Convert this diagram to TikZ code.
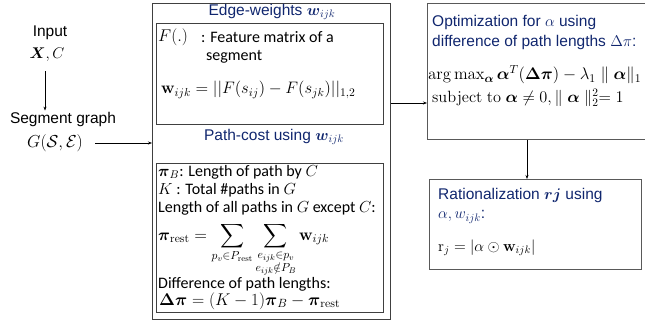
\documentclass[tikz,border=0pt]{standalone}
\usepackage{fix-cm}
\usepackage{amsmath,amssymb}
\usepackage[no-math]{fontspec}
\setmainfont{Liberation Sans}
\newfontfamily\carlito{Carlito}
\usepackage{xcolor}
\usepackage{tikz}
\usetikzlibrary{arrows.meta,positioning,calc}
\definecolor{navy}{RGB}{16,38,110}

\begin{document}
\begin{tikzpicture}[
  x=1pt,y=-1pt,
  every node/.style={inner sep=1pt},
  lbl/.style={font=\fontsize{15.5}{21}\selectfont,align=center},
  ttl/.style={font=\fontsize{15.5}{20}\selectfont,text=navy},
  body/.style={font=\carlito\fontsize{16}{19}\selectfont,anchor=west},
  box/.style={draw=black!75,line width=0.9pt,anchor=north west,inner sep=0pt},
  arc/.style={-{Stealth[length=4pt,width=3pt]},line width=0.7pt}
]
\useasboundingbox (0,0) rectangle (645,322);
\clip (0,0) rectangle (645,322);
% left column
\node[lbl] (input) at (50,33) {Input};
\node[lbl] (inputx) at (47,55) {$\boldsymbol{X}, C$};
\node[lbl] (seg) at (63,119) {Segment graph};
\node[lbl,font=\fontsize{17.3}{21}\selectfont] (segg) at (55,143) {$G(\mathcal{S},\mathcal{E})$};

% middle block
\node[box,line width=1.1pt,minimum width=238pt,minimum height=316pt] (outer) at (152,3) {};
\node[box,minimum width=227pt,minimum height=101pt] (inA) at (156,23) {};
\node[box,minimum width=227pt,minimum height=149pt] (inB) at (156,163) {};
\node[ttl] (tA) at (272,12) {Edge-weights $\boldsymbol{w}_{ijk}$};
\node[ttl] (tB) at (274,137) {Path-cost using $\boldsymbol{w}_{ijk}$};

\node[body,font=\fontsize{17}{19}\selectfont] (fdot) at (157,37) {$F(.)$};
\node[body] (feat) at (200,37) {: Feature matrix of a};
\node[body] (segm) at (205,57) {segment};
\node[anchor=west,font=\fontsize{16.6}{20}\selectfont] (wijk) at (160,90)
  {$\mathbf{w}_{ijk} = ||F(s_{ij}) - F(s_{jk})||_{1,2}$};

\node[body] (piB) at (157,172) {$\boldsymbol{\pi}_B$: Length of path by $C$};
\node[body] (kk) at (157,190) {$K$ : Total \#paths in $G$};
\node[body] (alllen) at (157,208) {Length of all paths in $G$ except $C$:};
\node[anchor=base west,font=\fontsize{16.7}{18}\selectfont] (pirest) at (157,240)
  {$\boldsymbol{\pi}_{\mathrm{rest}} = \displaystyle\sum_{p_v\in P_{\mathrm{rest}}}
   \sum_{\substack{e_{ijk}\in p_v\\ e_{ijk}\notin P_B}} \mathbf{w}_{ijk}$};
\node[body] (diff) at (157,284) {Difference of path lengths:};
\node[anchor=west,font=\fontsize{17}{18}\selectfont] (dpi) at (158,301)
  {$\boldsymbol{\Delta\pi} = (K-1)\boldsymbol{\pi}_B - \boldsymbol{\pi}_{\mathrm{rest}}$};

% right column
\node[box,draw=black!65,minimum width=230pt,minimum height=136pt] (opt) at (427,3) {};
\node[ttl,anchor=west] (optA) at (431,22) {Optimization for $\alpha$ using};
\node[ttl,anchor=west] (optB) at (431,42) {difference of path lengths $\Delta\pi$:};
\node[anchor=west,font=\fontsize{16.8}{18}\selectfont] (argmax) at (427,75)
  {$\arg\max_{\boldsymbol{\alpha}}\boldsymbol{\alpha}^T(\boldsymbol{\Delta\pi}) - \lambda_1 \parallel \boldsymbol{\alpha}\|_1$};
\node[anchor=west,font=\fontsize{16.3}{18}\selectfont] (subj) at (431,98)
  {$\mathrm{subject\ to}\ \boldsymbol{\alpha}\neq 0, \parallel \boldsymbol{\alpha}\parallel_2^2 = 1$};

\node[box,draw=black!65,minimum width=212pt,minimum height=90pt] (rat) at (429,179) {};
\node[ttl,anchor=west] (ratA) at (437,195) {Rationalization $\boldsymbol{r}\boldsymbol{j}$ using};
\node[ttl,anchor=west] (ratB) at (437,217) {$\alpha, w_{ijk}$:};
\node[anchor=west,font=\fontsize{15.5}{18}\selectfont] (rj) at (437,248)
  {$\mathrm{r}_j = \left|\alpha\odot \mathbf{w}_{ijk}\right|$};

% connectors
\draw[arc] (45,0 |- inputx.south) ++(0,8) -- (45,0 |- seg.north);
\draw[arc] (segg.east) ++(11,0) -- (outer.west |- segg.east);
\draw[arc] (outer.east |- 0,103) -- (opt.west |- 0,103);
\draw[arc] (opt.south -| 527,0) -- (rat.north -| 527,0);
\end{tikzpicture}
\end{document}
